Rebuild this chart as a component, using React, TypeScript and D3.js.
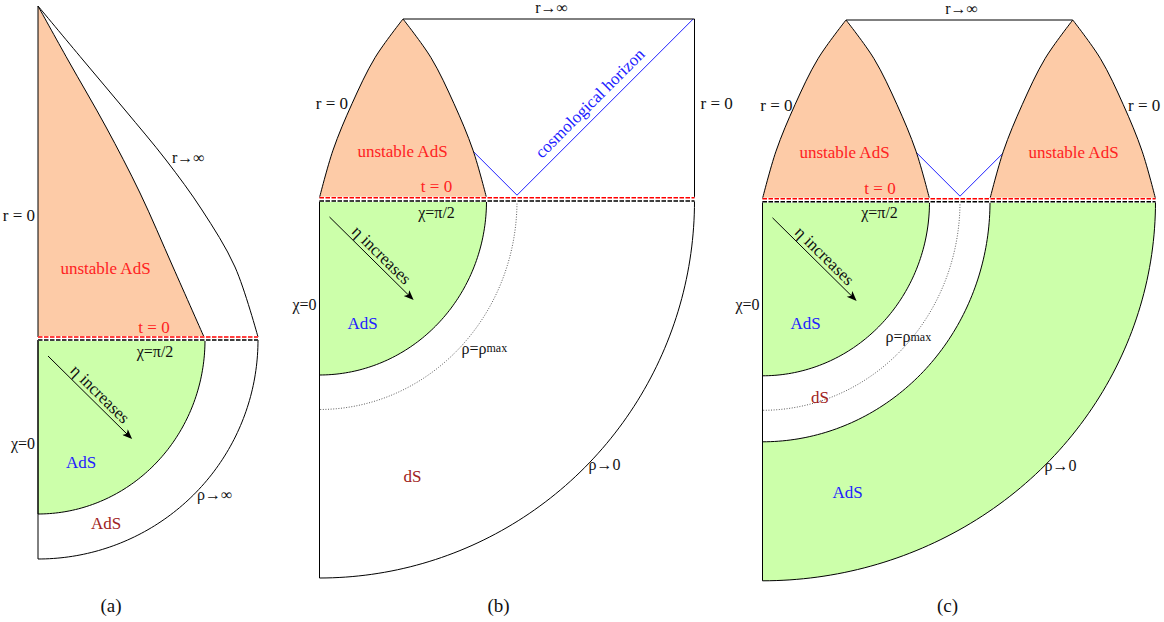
import * as d3 from "d3";

type Pt = [number, number];

// ---- values (diagram units, roughly px of the original) ----
const panelTags = ["(a)", "(b)", "(c)"];
// quarter ellipses below t = 0: [radius along chi = pi/2, radius along chi = 0]
const adsCore: Pt = [167, 174];
const rhoMaxArc: Pt = [197.5, 208.5];
const outerA: Pt = [220, 219];
const outerB: Pt = [375, 377];
const dsBandC: Pt = [227.5, 240];
const outerC: Pt = [393, 379];
// panel (a) above t = 0: [x, height above t = 0]
const unstableEdgeA: Pt[] = [[0, 331], [30, 277], [68, 210], [102, 144], [135, 70], [166, 0]];
const infinityEdgeA: Pt[] = [[0, 331], [45, 277], [87, 227], [128, 177], [164, 127], [197, 70], [220, 0]];
// lens profile used in (b) and (c)
const lensHeight = [0, 47.5, 94, 140, 178.7];
const lensHalfWidth = [83.5, 70, 51, 28, 0];
const horizonFoot = 2.5;

const frames = [
  { left: 38, red: 337, black: 340, width: 220 },
  { left: 319.5, red: 197.7, black: 201, width: 375 },
  { left: 762.5, red: 198.7, black: 201.8, width: 393 },
];

const FONT = "Liberation Serif, Times New Roman, Times, serif";
const ORANGE = "#fdcba7";
const GREEN = "#ccffaa";
const RED = "#ff2222";
const BLUE = "#2020ff";
const DARKRED = "#a02222";
const INK = "#111";

type Frame = ReturnType<typeof makeFrame>;

function makeFrame(f: (typeof frames)[number]) {
  const x = d3.scaleLinear().domain([0, 100]).range([f.left, f.left + 100]);
  const yd = d3.scaleLinear().domain([0, 100]).range([f.black, f.black + 100]);
  const yu = d3.scaleLinear().domain([0, 100]).range([f.red, f.red - 100]);
  const low = d3.line<Pt>().x((d) => x(d[0])).y((d) => yd(d[1]));
  const up = d3.line<Pt>().x((d) => x(d[0])).y((d) => yu(d[1]));
  const upCurve = d3
    .line<Pt>()
    .x((d) => x(d[0]))
    .y((d) => yu(d[1]))
    .curve(d3.curveCatmullRom.alpha(0.5));
  return { f, x, yd, yu, low, up, upCurve };
}

const quarter = (r: Pt, n = 90): Pt[] =>
  d3.range(n + 1).map((i) => {
    const a = ((i / n) * Math.PI) / 2;
    return [r[0] * Math.cos(a), r[1] * Math.sin(a)] as Pt;
  });

function lensPath(F: Frame, x0: number, x1: number) {
  const c = (x0 + x1) / 2;
  const s = (x1 - x0) / 2 / lensHalfWidth[0];
  const left: Pt[] = lensHeight.map((h, i) => [c - lensHalfWidth[i] * s, h]);
  const right: Pt[] = lensHeight.map((h, i) => [c + lensHalfWidth[i] * s, h] as Pt).reverse();
  return (F.upCurve(left) ?? "") + (F.upCurve(right) ?? "").replace(/^M/, "L") + "Z";
}

const lensApex = (x0: number, x1: number): Pt => [(x0 + x1) / 2, lensHeight[lensHeight.length - 1]];

type LabelProps = {
  x: number;
  y: number;
  children: React.ReactNode;
  size?: number;
  fill?: string;
  anchor?: "start" | "middle" | "end";
  rotate?: number;
};

function Label({ x, y, children, size = 17, fill = INK, anchor = "middle", rotate = 0 }: LabelProps) {
  return (
    <text
      x={x}
      y={y}
      fontSize={size}
      fill={fill}
      textAnchor={anchor}
      dominantBaseline="central"
      style={{ fontFamily: FONT }}
      transform={rotate ? `rotate(${rotate} ${x} ${y})` : undefined}
    >
      {children}
    </text>
  );
}

function TimeSlice({ F }: { F: Frame }) {
  const x0 = F.x(0);
  const x1 = F.x(F.f.width);
  return (
    <g>
      <rect x={x0} y={F.f.red - 1} width={x1 - x0} height={F.f.black - F.f.red + 2} fill="#fff" />
      <line x1={x0} x2={x1} y1={F.f.red} y2={F.f.red} stroke="#ff0000" strokeWidth={1.6} strokeDasharray="4.5 1.5" />
      <line x1={x0} x2={x1} y1={F.f.black} y2={F.f.black} stroke="#000" strokeWidth={1.6} strokeDasharray="4.5 1.5" />
    </g>
  );
}

function LowerCommon({ F }: { F: Frame }) {
  const a: Pt = [10, 16];
  const b: Pt = [95, 100];
  const x1 = F.x(a[0]);
  const y1 = F.yd(a[1]);
  const x2 = F.x(b[0]);
  const y2 = F.yd(b[1]);
  const ang = (Math.atan2(y2 - y1, x2 - x1) * 180) / Math.PI;
  return (
    <g>
      <line x1={x1} y1={y1} x2={x2 - 3} y2={y2 - 3} stroke="#000" strokeWidth={1} markerEnd="url(#arrowhead)" />
      <text
        transform={`translate(${(x1 + x2) / 2},${(y1 + y2) / 2}) rotate(${ang})`}
        x={4}
        y={-4}
        textAnchor="middle"
        fontSize={17}
        style={{ fontFamily: FONT }}
        fill={INK}
      >
        η increases
      </text>
      <Label x={F.x(117)} y={F.yd(11)} size={16}>χ=π/2</Label>
      <Label x={F.x(-3)} y={F.yd(103)} size={16} anchor="end">χ=0</Label>
      <Label x={F.x(43)} y={F.yd(122)} fill={BLUE}>AdS</Label>
    </g>
  );
}

function RhoMax({ F, x, y }: { F: Frame; x: number; y: number }) {
  return (
    <text x={F.x(x)} y={F.yd(y)} fontSize={16} fill={INK} dominantBaseline="central" style={{ fontFamily: FONT }}>
      ρ=ρ<tspan fontSize={12}>max</tspan>
    </text>
  );
}

function PanelA() {
  const F = makeFrame(frames[0]);
  const orange = (F.upCurve(unstableEdgeA) ?? "") + `L${F.x(0)},${F.yu(0)}Z`;
  return (
    <g>
      <path d={(F.low([[0, 0], ...quarter(adsCore)]) ?? "") + "Z"} fill={GREEN} stroke="#000" strokeWidth={1} />
      <path d={F.low(quarter(outerA)) ?? ""} fill="none" stroke="#000" strokeWidth={1} />
      <path d={orange} fill={ORANGE} stroke="#000" strokeWidth={1} />
      <path d={F.upCurve(infinityEdgeA) ?? ""} fill="none" stroke="#000" strokeWidth={1} />
      <line x1={F.x(0)} x2={F.x(0)} y1={F.yd(0)} y2={F.yd(outerA[1])} stroke="#000" strokeWidth={1} />
      <TimeSlice F={F} />
      <Label x={F.x(-3)} y={F.yu(122)} anchor="end">r = 0</Label>
      <Label x={F.x(134)} y={F.yu(180)} size={16} anchor="start">r→∞</Label>
      <Label x={F.x(67.5)} y={F.yu(69)} fill={RED}>unstable AdS</Label>
      <Label x={F.x(116)} y={F.yu(10)} fill={RED}>t = 0</Label>
      <LowerCommon F={F} />
      <Label x={F.x(68)} y={F.yd(183)} fill={DARKRED}>AdS</Label>
      <Label x={F.x(159)} y={F.yd(154)} size={16} anchor="start">ρ→∞</Label>
      <Label x={F.x(73)} y={F.yd(265)} size={19}>{panelTags[0]}</Label>
    </g>
  );
}

function PanelB() {
  const F = makeFrame(frames[1]);
  const apex = lensApex(0, adsCore[0]);
  const v: Pt = [rhoMaxArc[0], horizonFoot];
  const top = apex[1];
  const horizon: Pt[] = [[v[0] - 70, v[1] + 70], v, [v[0] + (top - v[1]), top]];
  return (
    <g>
      <path d={(F.low([[0, 0], ...quarter(adsCore)]) ?? "") + "Z"} fill={GREEN} stroke="#000" strokeWidth={1} />
      <path d={F.low(quarter(rhoMaxArc)) ?? ""} fill="none" stroke="#333" strokeWidth={0.8} strokeDasharray="1 1.6" />
      <path d={F.low(quarter(outerB)) ?? ""} fill="none" stroke="#000" strokeWidth={1} />
      <line x1={F.x(0)} x2={F.x(0)} y1={F.yd(0)} y2={F.yd(outerB[1])} stroke="#000" strokeWidth={1} />
      <path d={F.up(horizon) ?? ""} fill="none" stroke={BLUE} strokeWidth={1} />
      <path d={lensPath(F, 0, adsCore[0])} fill={ORANGE} stroke="#000" strokeWidth={1} />
      <path
        d={F.up([apex, [outerB[0], top], [outerB[0], 0]]) ?? ""}
        fill="none"
        stroke="#000"
        strokeWidth={1}
      />
      <TimeSlice F={F} />
      <Label x={F.x(28.5)} y={F.yu(94.5)} anchor="end">r = 0</Label>
      <Label x={F.x(381)} y={F.yu(94.5)} anchor="start">r = 0</Label>
      <Label x={F.x(232)} y={F.yu(190)} size={16}>r→∞</Label>
      <Label x={F.x(83)} y={F.yu(46.5)} fill={RED}>unstable AdS</Label>
      <Label x={F.x(117)} y={F.yu(11)} fill={RED}>t = 0</Label>
      <Label x={F.x(270.5)} y={F.yu(94.5)} fill={BLUE} rotate={-45}>cosmological horizon</Label>
      <LowerCommon F={F} />
      <RhoMax F={F} x={142} y={147} />
      <Label x={F.x(93)} y={F.yd(275)} fill={DARKRED}>dS</Label>
      <Label x={F.x(269)} y={F.yd(263)} size={16} anchor="start">ρ→0</Label>
      <Label x={F.x(179)} y={F.yd(404)} size={19}>{panelTags[1]}</Label>
    </g>
  );
}

function PanelC() {
  const F = makeFrame(frames[2]);
  const apexL = lensApex(0, adsCore[0]);
  const apexR = lensApex(dsBandC[0], outerC[0]);
  const v: Pt = [rhoMaxArc[0], horizonFoot];
  const horizon: Pt[] = [[v[0] - 70, v[1] + 70], v, [v[0] + 70, v[1] + 70]];
  const band = [...quarter(outerC), ...quarter(dsBandC).reverse()];
  return (
    <g>
      <path d={(F.low([[0, 0], ...quarter(adsCore)]) ?? "") + "Z"} fill={GREEN} stroke="#000" strokeWidth={1} />
      <path d={(F.low(band) ?? "") + "Z"} fill={GREEN} stroke="none" />
      <path d={F.low(quarter(dsBandC)) ?? ""} fill="none" stroke="#000" strokeWidth={1} />
      <path d={F.low(quarter(outerC)) ?? ""} fill="none" stroke="#000" strokeWidth={1} />
      <path d={F.low(quarter(rhoMaxArc)) ?? ""} fill="none" stroke="#333" strokeWidth={0.8} strokeDasharray="1 1.6" />
      <line x1={F.x(0)} x2={F.x(0)} y1={F.yd(0)} y2={F.yd(outerC[1])} stroke="#000" strokeWidth={1} />
      <path d={F.up(horizon) ?? ""} fill="none" stroke={BLUE} strokeWidth={1} />
      <path d={lensPath(F, 0, adsCore[0])} fill={ORANGE} stroke="#000" strokeWidth={1} />
      <path d={lensPath(F, dsBandC[0], outerC[0])} fill={ORANGE} stroke="#000" strokeWidth={1} />
      <path d={F.up([apexL, apexR]) ?? ""} fill="none" stroke="#000" strokeWidth={1} />
      <TimeSlice F={F} />
      <Label x={F.x(30)} y={F.yu(93)} anchor="end">r = 0</Label>
      <Label x={F.x(365.5)} y={F.yu(93)} anchor="start">r = 0</Label>
      <Label x={F.x(199)} y={F.yu(190)} size={16}>r→∞</Label>
      <Label x={F.x(82)} y={F.yu(46.3)} fill={RED}>unstable AdS</Label>
      <Label x={F.x(311)} y={F.yu(46.3)} fill={RED}>unstable AdS</Label>
      <Label x={F.x(117.5)} y={F.yu(10)} fill={RED}>t = 0</Label>
      <LowerCommon F={F} />
      <RhoMax F={F} x={123} y={135} />
      <Label x={F.x(57.5)} y={F.yd(195.7)} fill={DARKRED}>dS</Label>
      <Label x={F.x(282)} y={F.yd(264)} size={16} anchor="start">ρ→0</Label>
      <Label x={F.x(85)} y={F.yd(290.7)} fill={BLUE}>AdS</Label>
      <Label x={F.x(185)} y={F.yd(404)} size={19}>{panelTags[2]}</Label>
    </g>
  );
}

export default function App() {
  return (
    <svg
      width={1164}
      height={622}
      viewBox="0 0 1164 622"
      style={{ position: "absolute", left: 0, top: 0, background: "#fff" }}
    >
      <defs>
        <marker
          id="arrowhead"
          viewBox="0 0 10 8"
          refX={7}
          refY={4}
          markerWidth={11}
          markerHeight={8}
          markerUnits="userSpaceOnUse"
          orient="auto"
        >
          <path d="M0,0 L10,4 L0,8 L2.5,4 Z" fill="#000" />
        </marker>
      </defs>
      <rect width={1164} height={622} fill="#fff" />
      <PanelA />
      <PanelB />
      <PanelC />
    </svg>
  );
}
